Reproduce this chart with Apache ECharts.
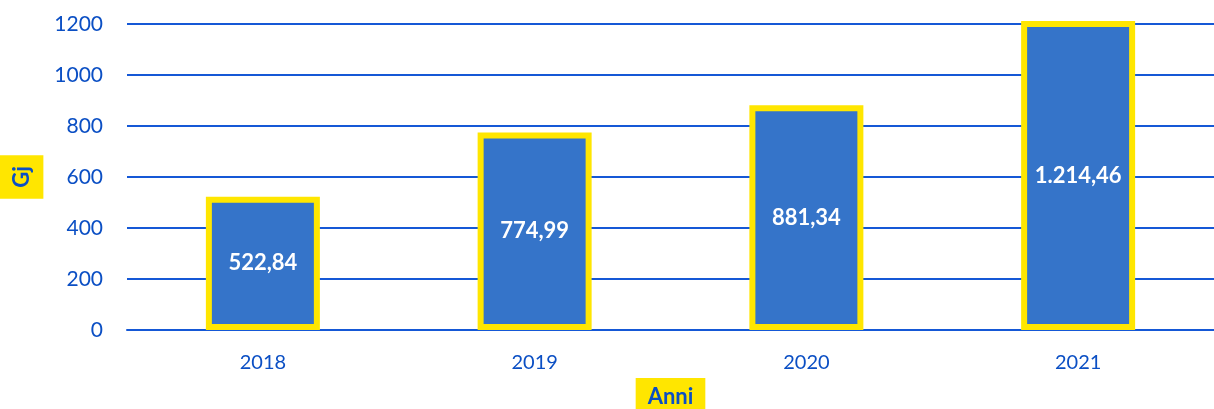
<!DOCTYPE html>
<html>
<head>
<meta charset="utf-8">
<script src="https://cdn.jsdelivr.net/npm/echarts@6/dist/echarts.min.js"></script>
<style>
  html, body { margin: 0; padding: 0; background: #fff; }
  #chart { width: 1214px; height: 409px; }
</style>
</head>
<body>
<div id="chart"></div>
<script>
// dati
var anni = ['2018', '2019', '2020', '2021'];
var valori = [522.84, 774.99, 881.34, 1214.46];
var yTicks = [0, 200, 400, 600, 800, 1000, 1200];

var blu = '#1558d6';
var giallo = '#ffe600';

function formatIt(v) {
    var parts = v.toFixed(2).split('.');
    parts[0] = parts[0].replace(/\B(?=(\d{3})+(?!\d))/g, '.');
    return parts[0] + ',' + parts[1];
}

var option = {
    animation: false,
    textStyle: { fontFamily: 'Lato' },
    grid: {
        left: 127,
        right: 0,
        top: 24,
        bottom: 79,
        outerBoundsMode: 'none',
        containLabel: false
    },
    xAxis: {
        type: 'category',
        data: anni,
        name: 'Anni',
        nameLocation: 'middle',
        nameGap: 46,
        nameTextStyle: {
            color: '#0b4fc4',
            fontSize: 22,
            fontWeight: 'bold',
            backgroundColor: giallo,
            padding: [8, 12, 8, 12]
        },
        axisLine: { lineStyle: { color: blu, width: 2 } },
        axisTick: { show: false },
        axisLabel: { color: '#0b4fc4', fontSize: 20, margin: 23 }
    },
    yAxis: {
        type: 'value',
        min: yTicks[0],
        max: yTicks[yTicks.length - 1],
        interval: 200,
        name: 'Gj',
        nameLocation: 'middle',
        nameRotate: 90,
        nameGap: 80,
        nameTextStyle: {
            color: '#0b4fc4',
            fontSize: 22,
            fontWeight: 'bold',
            backgroundColor: giallo,
            padding: [12, 11, 10, 11]
        },
        axisLine: { show: false },
        axisTick: { show: false },
        axisLabel: {
            color: '#0b4fc4',
            fontSize: 21,
            margin: 24,
            formatter: function (v) { return String(v); }
        },
        splitLine: { lineStyle: { color: blu, width: 2 } }
    },
    series: [{
        type: 'bar',
        data: valori,
        barWidth: 114,
        itemStyle: {
            color: '#3574c9',
            borderColor: giallo,
            borderWidth: 6
        },
        label: {
            show: true,
            position: 'inside',
            color: '#fff',
            fontSize: 22,
            fontWeight: 'bold',
            formatter: function (p) { return formatIt(p.value); }
        }
    }]
};

var myChart = echarts.init(document.getElementById('chart'));
myChart.setOption(option);
</script>
</body>
</html>
